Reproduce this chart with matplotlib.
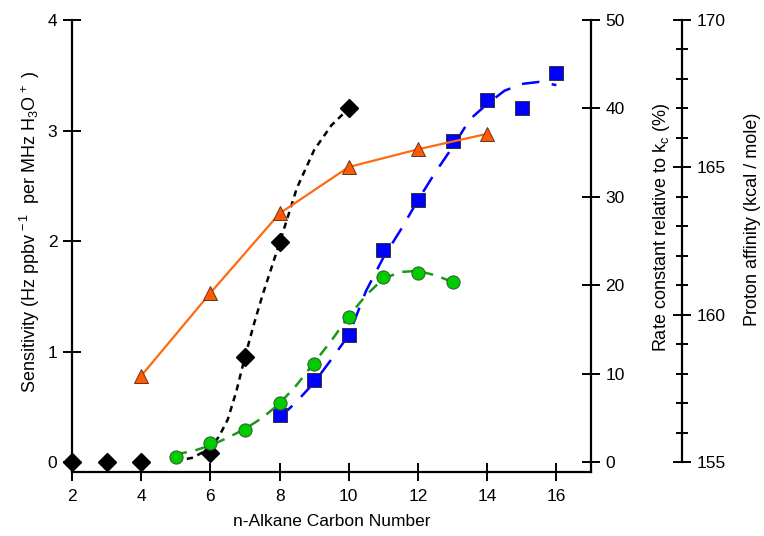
import matplotlib
matplotlib.use("Agg")
import matplotlib.pyplot as plt
from matplotlib.ticker import MultipleLocator

plt.rcParams['font.family'] = ['Liberation Sans', 'DejaVu Sans']
plt.rcParams['mathtext.fontset'] = 'custom'
plt.rcParams['mathtext.rm'] = 'Liberation Sans'
plt.rcParams['mathtext.it'] = 'Liberation Sans'

# --- data ---
# rate constant (%) - black diamonds and fitted dotted curve
rate_x = [2, 3, 4, 6, 7, 8, 10]
rate_y = [0.0, 0.0, 0.0, 1.0, 11.9, 24.9, 40.0]
rate_fit_x = [5, 5.5, 6, 6.25, 6.5, 6.75, 7, 7.25, 7.5, 8, 8.5, 9, 9.5, 10]
rate_fit_y = [0.1, 0.5, 1.6, 2.9, 4.8, 8.0, 11.9, 15.5, 18.8, 24.8, 31.0, 35.3, 38.1, 40.0]

# sensitivity - orange triangles (solid line)
sens_a_x = [4, 6, 8, 10, 12, 14]
sens_a_y = [0.78, 1.53, 2.25, 2.67, 2.83, 2.97]

# sensitivity - green circles and dashed fit
sens_b_x = [5, 6, 7, 8, 9, 10, 11, 12, 13]
sens_b_y = [0.05, 0.17, 0.29, 0.53, 0.89, 1.31, 1.67, 1.71, 1.63]
sens_b_fit_x = [5, 5.5, 6, 6.5, 7, 7.5, 8, 8.5, 9, 9.5, 10, 10.5, 11, 11.5, 12, 12.5, 13]
sens_b_fit_y = [0.07, 0.10, 0.15, 0.22, 0.30, 0.40, 0.53, 0.70, 0.90, 1.10, 1.32, 1.51,
                1.66, 1.72, 1.73, 1.69, 1.63]

# proton affinity (kcal/mole) - blue squares and dashed fit
pa_x = [8, 9, 10, 11, 12, 13, 14, 15, 16]
pa_y = [156.6, 157.8, 159.3, 162.2, 163.9, 165.9, 167.3, 167.0, 168.2]
pa_fit_x = [8, 8.5, 9, 9.5, 10, 10.5, 11, 11.5, 12, 12.5, 13, 13.5, 14, 14.5, 15, 15.5, 16]
pa_fit_y = [156.50, 157.06, 157.70, 158.49, 159.31, 160.81, 161.94, 162.88, 163.89,
            164.83, 165.69, 166.63, 167.15, 167.60, 167.83, 167.90, 167.79]

x_ticks = [2, 4, 6, 8, 10, 12, 14, 16]

# --- figure ---
fig = plt.figure(figsize=(7.64, 5.36), dpi=100)
ax = fig.add_axes([72/764, 1 - 472/536, (591 - 72)/764, (472 - 20)/536])
ax2 = ax.twinx()
ax3 = ax.twinx()

ax.set_xlim(2, 17)
ax.set_ylim(-0.09, 4)
ax2.set_ylim(-0.09 * 12.5, 50)
ax3.set_ylim(155 - 0.09 * 3.75, 170)

lw_sp = 1.6
for a in (ax, ax2, ax3):
    a.set_zorder(1)
    a.patch.set_visible(False)
    a.spines['top'].set_visible(False)
ax.set_zorder(3)
ax.spines['right'].set_visible(False)
ax.spines['left'].set_linewidth(lw_sp)
ax.spines['bottom'].set_linewidth(lw_sp)
ax2.spines['left'].set_visible(False)
ax2.spines['bottom'].set_visible(False)
ax2.spines['right'].set_linewidth(lw_sp)
ax3.spines['left'].set_visible(False)
ax3.spines['bottom'].set_visible(False)
ax3.spines['right'].set_position(('axes', (682 - 72) / (591 - 72)))
ax3.spines['right'].set_bounds(155, 170)
ax3.spines['right'].set_linewidth(lw_sp)

tick_fs = 12.5
ax.set_xticks(x_ticks)
ax.set_yticks([0, 1, 2, 3, 4])
ax.tick_params(axis='both', direction='inout', length=13, width=1.4, labelsize=tick_fs, pad=4)
ax.tick_params(axis='x', pad=6)
ax2.set_yticks([0, 10, 20, 30, 40, 50])
ax2.tick_params(axis='y', direction='inout', length=13, width=1.4, labelsize=tick_fs, pad=4)
ax3.yaxis.set_major_locator(MultipleLocator(5))
ax3.yaxis.set_minor_locator(MultipleLocator(1))
ax3.tick_params(axis='y', which='major', direction='inout', length=13, width=1.4,
                labelsize=tick_fs, pad=4)
ax3.tick_params(axis='y', which='minor', direction='inout', length=9, width=1.4)

W = 591 - 72
lab_fs = 13
ax.set_xlabel('n-Alkane Carbon Number', fontsize=12.5, labelpad=7)
ax.set_ylabel(r'Sensitivity (Hz ppbv$^{\,-1}$  per MHz H$_3$O$^{\,+}$ )', fontsize=lab_fs)
ax.yaxis.set_label_coords((42 - 72) / W, 0.531)
ax2.set_ylabel(r'Rate constant relative to k$_\mathregular{c}$ (%)', fontsize=lab_fs)
ax2.yaxis.set_label_coords((651 - 72) / W, 0.54)
ax3.set_ylabel('Proton affinity (kcal / mole)', fontsize=lab_fs)
ax3.yaxis.set_label_coords((744 - 72) / W, 0.56)

# --- series ---
ax3.plot(pa_fit_x, pa_fit_y, color='#0000FF', lw=1.8, dashes=(7, 5), zorder=2, clip_on=False)
ax3.plot(pa_x, pa_y, ls='none', marker='s', ms=9.5, mfc='#0000FF', mec='#333333', mew=0.7,
         zorder=3, clip_on=False)

ax2.plot(rate_fit_x, rate_fit_y, color='black', lw=1.8, dashes=(2.5, 2), zorder=2, clip_on=False)
ax2.plot(rate_x, rate_y, ls='none', marker='D', ms=9, mfc='black', mec='black',
         zorder=3, clip_on=False)

ax.plot(sens_b_fit_x, sens_b_fit_y, color='#1A9A1A', lw=1.8, dashes=(4.5, 3.5), zorder=2)
ax.plot(sens_b_x, sens_b_y, ls='none', marker='o', ms=9.5, mfc='#00CC00', mec='#335533',
        mew=0.7, zorder=3, clip_on=False)
ax.plot(sens_a_x, sens_a_y, color='#FF6A10', lw=1.6, marker='^', ms=10, mfc='#FF5A00',
        mec='#663322', mew=0.7, zorder=4, clip_on=False)

fig.savefig('out.png', dpi=100)
